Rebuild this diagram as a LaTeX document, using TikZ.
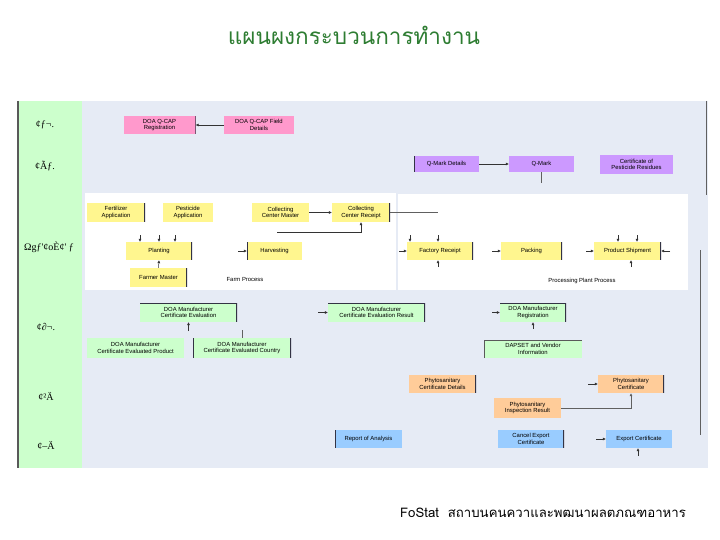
\documentclass[tikz,border=0pt]{standalone}
\usepackage{fontspec}
\setmainfont{Liberation Sans}
\newfontfamily\thaifont[Script=Thai]{Loma}
\newfontfamily\rowfont{Liberation Serif}
\usetikzlibrary{arrows.meta, positioning, calc}
\definecolor{bgblue}{HTML}{E6EBF5}
\definecolor{rowgreen}{HTML}{CCFFCC}
\definecolor{qpink}{HTML}{FF99CC}
\definecolor{qpurple}{HTML}{CC99FF}
\definecolor{qyellow}{HTML}{FFF68F}
\definecolor{qgreen}{HTML}{CCFFCC}
\definecolor{qorange}{HTML}{FFCC99}
\definecolor{qblue}{HTML}{99CCFF}
\definecolor{edgecol}{HTML}{333344}
\definecolor{titlegreen}{HTML}{2E7D32}

\begin{document}
\begin{tikzpicture}[x=1pt, y=-1pt,
  proc/.style={rectangle, inner sep=1pt, align=center,
    font=\fontsize{5.9}{6.7}\selectfont, minimum height=18pt},
  pinkbox/.style={proc, fill=qpink},
  purplebox/.style={proc, fill=qpurple},
  yellowbox/.style={proc, fill=qyellow},
  greenbox/.style={proc, fill=qgreen},
  orangebox/.style={proc, fill=qorange},
  bluebox/.style={proc, fill=qblue},
  redge/.style={path picture={\draw[edgecol, line width=1.6pt]
    (path picture bounding box.north east) -- (path picture bounding box.south east);}},
  ledge/.style={path picture={\draw[edgecol, line width=1.6pt]
    (path picture bounding box.north west) -- (path picture bounding box.south west);}},
  lredge/.style={path picture={\draw[edgecol, line width=1.6pt]
    (path picture bounding box.north west) -- (path picture bounding box.south west)
    (path picture bounding box.north east) -- (path picture bounding box.south east);}},
  tredge/.style={path picture={\draw[edgecol, line width=1.4pt]
    (path picture bounding box.north west) -- (path picture bounding box.north east)
    -- (path picture bounding box.south east);}},
  tledge/.style={path picture={\draw[gray!70!black, line width=1pt]
    (path picture bounding box.south west) -- (path picture bounding box.north west)
    -- (path picture bounding box.north east);}},
  arr/.style={-{Latex[length=3pt, width=3pt]}, line width=0.5pt, black!80},
  ln/.style={line width=0.6pt, gray!75!black},
  rowlab/.style={font=\rowfont\fontsize{10}{11}\selectfont},
  paneltxt/.style={font=\fontsize{5.9}{6.7}\selectfont}]

\useasboundingbox (0,0) rectangle (720,540);
\fill[white] (0,0) rectangle (720,540);

% --- frame, row column, white panels ---
\fill[bgblue] (18,101) rectangle (708,468);
\fill[rowgreen] (18,101) rectangle (82,468);
\draw[gray!70!black, line width=1.2pt] (18,101) -- (18,468);
\fill[white] (85,193) rectangle (396,290);
\fill[white] (398,194) rectangle (688,290);

% --- title and footer ---
\node[font=\thaifont\fontsize{22.5}{26}\selectfont, text=titlegreen] (title) at (354,35) {แผนผงกระบวนการทำงาน};
\node[font=\thaifont\fontsize{13.2}{15}\selectfont] (foot) at (543,513) {FoStat\ \ สถาบนคนควาและพฒนาผลตภณฑอาหาร};

% --- row labels ---
\node[rowlab] (lab1) at (45,125) {¢ƒ¬.};
\node[rowlab] (lab2) at (45,166) {¢Ãƒ.};
\node[rowlab] (lab3) at (49,247) {Ωgƒ'¢oÈ¢' ƒ};
\node[rowlab] (lab4) at (46,327) {¢∂¬.};
\node[rowlab] (lab5) at (46,396) {¢²Ä};
\node[rowlab] (lab6) at (46,445) {¢–Ä};

% --- Q-CAP row ---
\node[pinkbox, redge, minimum width=72pt] (reg) at (159.5,125) {DOA Q-CAP\\Registration};
\node[pinkbox, minimum width=70pt] (field) at (259,125) {DOA Q-CAP Field\\Details};
\draw[arr] (field.west) -- (reg.east);

% --- Q-Mark row ---
\node[purplebox, ledge, minimum width=65pt, minimum height=16pt] (qmd) at (446.5,164) {Q-Mark Details};
\node[purplebox, minimum width=65pt, minimum height=16pt] (qmark) at (541.5,164) {Q-Mark};
\node[purplebox, minimum width=73pt, minimum height=19pt] (pcr) at (636.5,164.5) {Certificate of\\Pesticide Residues};
\coordinate (qmdown) at (541.5,183);
\draw[arr] (qmd.east) -- (qmark.west);
\draw[ln] (qmark.south) -- (qmdown);

% --- farm process panel ---
\node[yellowbox, redge, minimum width=58pt, minimum height=19pt] (fert) at (116,212.5) {Fertilizer\\Application};
\node[yellowbox, minimum width=50pt, minimum height=19pt] (pest) at (188,212.5) {Pesticide\\Application};
\node[yellowbox, minimum width=57pt, minimum height=19pt] (ccm) at (280.5,212.5) {Collecting\\Center Master};
\node[yellowbox, redge, minimum width=58pt, minimum height=19pt] (ccr) at (361,212.5) {Collecting\\Center Receipt};
\node[yellowbox, redge, minimum width=66pt] (plant) at (159,251) {Planting};
\node[yellowbox, redge, minimum width=57pt, minimum height=19pt] (farmer) at (158.5,277.5) {Farmer Master};
\node[yellowbox, ledge, minimum width=55pt] (harv) at (274.5,251) {Harvesting};
\node[paneltxt] (farmlab) at (245,279) {Farm Process};

\coordinate (ccrout) at (438,212.5);
\coordinate (ccrin) at (277,232);
\coordinate (pl1) at (140,235);
\coordinate (pl2) at (159,235);
\coordinate (pl3) at (175,235);
\coordinate (hvin) at (238,251);
\draw[arr] (ccm.east) -- (ccr.west);
\draw[ln] (ccr.east) -- (ccrout);
\draw[arr] (ccrin) -| (ccr.south);
\draw[arr] (pl1) -- (plant.north -| pl1);
\draw[arr] (pl2) -- (plant.north -| pl2);
\draw[arr] (pl3) -- (plant.north -| pl3);
\draw[arr] (farmer.north) -- (plant.south);
\draw[arr] (hvin) -- (harv.west);

% --- processing plant panel ---
\node[yellowbox, redge, minimum width=66pt] (frec) at (440,251) {Factory Receipt};
\node[yellowbox, redge, minimum width=61pt] (pack) at (531.5,251) {Packing};
\node[yellowbox, redge, minimum width=67pt] (ship) at (627.5,251) {Product Shipment};
\node[paneltxt] (plantlab) at (582,281) {Processing Plant Process};

\coordinate (fr1) at (410,235);
\coordinate (fr2) at (438,235);
\coordinate (frw) at (399,251);
\coordinate (frs) at (438,267);
\coordinate (pkw) at (492,251);
\coordinate (sh1) at (618,235);
\coordinate (sh2) at (637,235);
\coordinate (shw) at (586,251);
\coordinate (she) at (670,251);
\coordinate (shs) at (631,267);
\draw[arr] (fr1) -- (frec.north -| fr1);
\draw[arr] (fr2) -- (frec.north -| fr2);
\draw[arr] (frw) -- (frec.west);
\draw[arr] (frs) -- (frec.south -| frs);
\draw[arr] (pkw) -- (pack.west);
\draw[arr] (sh1) -- (ship.north -| sh1);
\draw[arr] (sh2) -- (ship.north -| sh2);
\draw[arr] (shw) -- (ship.west);
\draw[arr] (she) -- (ship.east);
\draw[arr] (shs) -- (ship.south -| shs);

% --- manufacturer row ---
\node[greenbox, tredge, minimum width=97pt, minimum height=19pt] (dme) at (188.5,312.5) {DOA Manufacturer\\Certificate Evaluation};
\node[greenbox, minimum width=97pt, minimum height=20pt] (dmp) at (135.5,348) {DOA Manufacturer\\Certificate Evaluated Product};
\node[greenbox, lredge, minimum width=98pt, minimum height=20pt] (dmc) at (242,348) {DOA Manufacturer\\Certificate Evaluated Country};
\node[greenbox, tredge, minimum width=97pt, minimum height=19pt] (dmr) at (376.5,312.5) {DOA Manufacturer\\Certificate Evaluation Result};
\node[greenbox, tredge, minimum width=66pt, minimum height=19pt] (dmreg) at (533,312.5) {DOA Manufacturer\\Registration};
\node[greenbox, tledge, minimum width=98pt] (dapset) at (533,349) {DAPSET and Vendor\\Information};

\coordinate (dmein) at (188.5,331);
\coordinate (dmcup) at (242,330);
\coordinate (dmrin) at (318,312.5);
\coordinate (dmregw) at (492,312.5);
\coordinate (dmregs) at (533,329);
\draw[arr] (dmein) -- (dme.south);
\draw[ln] (dmc.north) -- (dmcup);
\draw[arr] (dmrin) -- (dmr.west);
\draw[arr] (dmregw) -- (dmreg.west);
\draw[arr] (dmregs) -- (dmreg.south);

% --- phytosanitary row ---
\node[orangebox, redge, minimum width=67pt] (pcd) at (442.5,384) {Phytosanitary\\Certificate Details};
\node[orangebox, redge, minimum width=66pt] (pc) at (631,384) {Phytosanitary\\Certificate};
\node[orangebox, minimum width=67pt, minimum height=20pt] (pir) at (527.5,408) {Phytosanitary\\Inspection Result};
\coordinate (pcw) at (588,384);
\draw[arr] (pcw) -- (pc.west);
\draw[arr, ln] (pir.east) -| (pc.south);

% --- export row ---
\node[bluebox, ledge, minimum width=67pt] (roa) at (368.5,439) {Report of Analysis};
\node[bluebox, redge, minimum width=66pt] (cec) at (531,439) {Cancel Export\\Certificate};
\node[bluebox, minimum width=66pt] (expc) at (639,439) {Export Certificate};
\coordinate (expw) at (596,439);
\coordinate (exps) at (638,456);
\draw[arr] (expw) -- (expc.west);
\draw[arr] (exps) -- (expc.south -| exps);

% --- right side lines ---
\coordinate (rt1) at (706,101);
\coordinate (rt2) at (706,195);
\coordinate (rt3) at (700,250);
\coordinate (rt4) at (700,435);
\draw[ln] (rt1) -- (rt2);
\draw[ln] (rt3) -- (rt4);
\end{tikzpicture}
\end{document}
